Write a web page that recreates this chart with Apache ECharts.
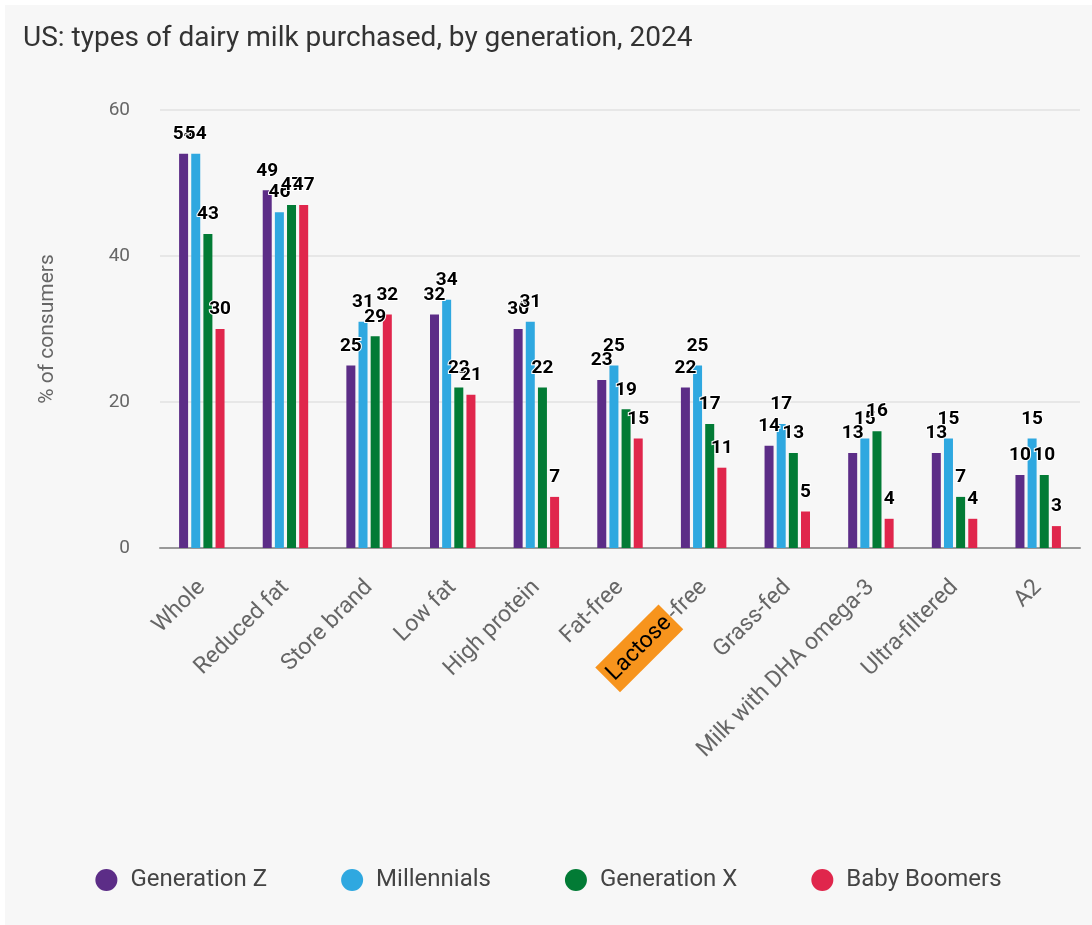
<!DOCTYPE html>
<html>
<head>
<meta charset="utf-8">
<script src="https://cdn.jsdelivr.net/npm/echarts@6/dist/echarts.min.js"></script>
<style>
  html, body { margin: 0; padding: 0; background: #ffffff; }
  #chart { position: absolute; left: 5px; top: 5px; width: 1087px; height: 920px; background: #f7f7f7; }
</style>
</head>
<body>
<div id="chart"></div>
<script>
// Milk types and share of consumers (%) by generation
const categories = ['Whole', 'Reduced fat', 'Store brand', 'Low fat', 'High protein', 'Fat-free',
  'Lactose-free', 'Grass-fed', 'Milk with DHA omega-3', 'Ultra-filtered', 'A2'];
const genZ        = [54, 49, 25, 32, 30, 23, 22, 14, 13, 13, 10];
const millennials = [54, 46, 31, 34, 31, 25, 25, 17, 15, 15, 15];
const genX        = [43, 47, 29, 22, 22, 19, 17, 13, 16, 7, 10];
const boomers     = [30, 47, 32, 21, 7, 15, 11, 5, 4, 4, 3];
const seriesNames = ['Generation Z', 'Millennials', 'Generation X', 'Baby Boomers'];
const seriesColors = ['#5c2d87', '#2fa8e0', '#027b35', '#e0264c'];
const yTicks = [0, 20, 40, 60];

const chart = echarts.init(document.getElementById('chart'));
const fontFamily = 'Roboto, "Noto Sans", sans-serif';

function barSeries(name, data, color) {
  return {
    name: name,
    type: 'bar',
    data: data,
    barWidth: 9,
    barGap: '35%',
    itemStyle: { color: color },
    label: {
      show: true,
      position: 'top',
      distance: 10,
      color: '#000',
      fontWeight: 'bold',
      fontSize: 19,
      fontFamily: fontFamily,
      textBorderColor: '#ffffff',
      textBorderWidth: 2
    }
  };
}

chart.setOption({
  backgroundColor: '#f7f7f7',
  textStyle: { fontFamily: fontFamily },
  title: {
    text: 'US: types of dairy milk purchased, by generation, 2024',
    left: 13,
    top: 15,
    textStyle: { fontSize: 28, fontWeight: 'normal', color: '#333', fontFamily: fontFamily }
  },
  legend: {
    bottom: 28,
    left: 'center',
    icon: 'circle',
    itemWidth: 22,
    itemHeight: 22,
    itemGap: 74,
    textStyle: { fontSize: 24, color: '#444', fontFamily: fontFamily, padding: [0, 0, 0, 8] },
    data: seriesNames
  },
  grid: { left: 155, right: 12, top: 105, bottom: 377, containLabel: false },
  xAxis: {
    type: 'category',
    data: categories,
    axisLine: { lineStyle: { color: '#999', width: 2 } },
    axisTick: { show: false },
    axisLabel: {
      rotate: 45,
      margin: 36,
      fontSize: 23,
      color: '#666',
      fontFamily: fontFamily,
      interval: 0,
      formatter: function (v) {
        return v === 'Lactose-free' ? '{hl|Lactose}-free' : v;
      },
      rich: {
        hl: { backgroundColor: '#f7941d', color: '#000', fontSize: 23, padding: [6, 4, 6, 4], fontFamily: fontFamily }
      }
    }
  },
  yAxis: {
    type: 'value',
    min: yTicks[0],
    max: yTicks[yTicks.length - 1],
    interval: 20,
    name: '% of consumers',
    nameLocation: 'middle',
    nameGap: 102,
    nameTextStyle: { fontSize: 21, color: '#666', fontFamily: fontFamily },
    axisLine: { show: false },
    axisTick: { show: false },
    axisLabel: { fontSize: 19, color: '#666', margin: 30, fontFamily: fontFamily },
    splitLine: { lineStyle: { color: '#e2e2e2', width: 1.5 } }
  },
  series: [
    barSeries(seriesNames[0], genZ, seriesColors[0]),
    barSeries(seriesNames[1], millennials, seriesColors[1]),
    barSeries(seriesNames[2], genX, seriesColors[2]),
    barSeries(seriesNames[3], boomers, seriesColors[3])
  ]
});
</script>
</body>
</html>
